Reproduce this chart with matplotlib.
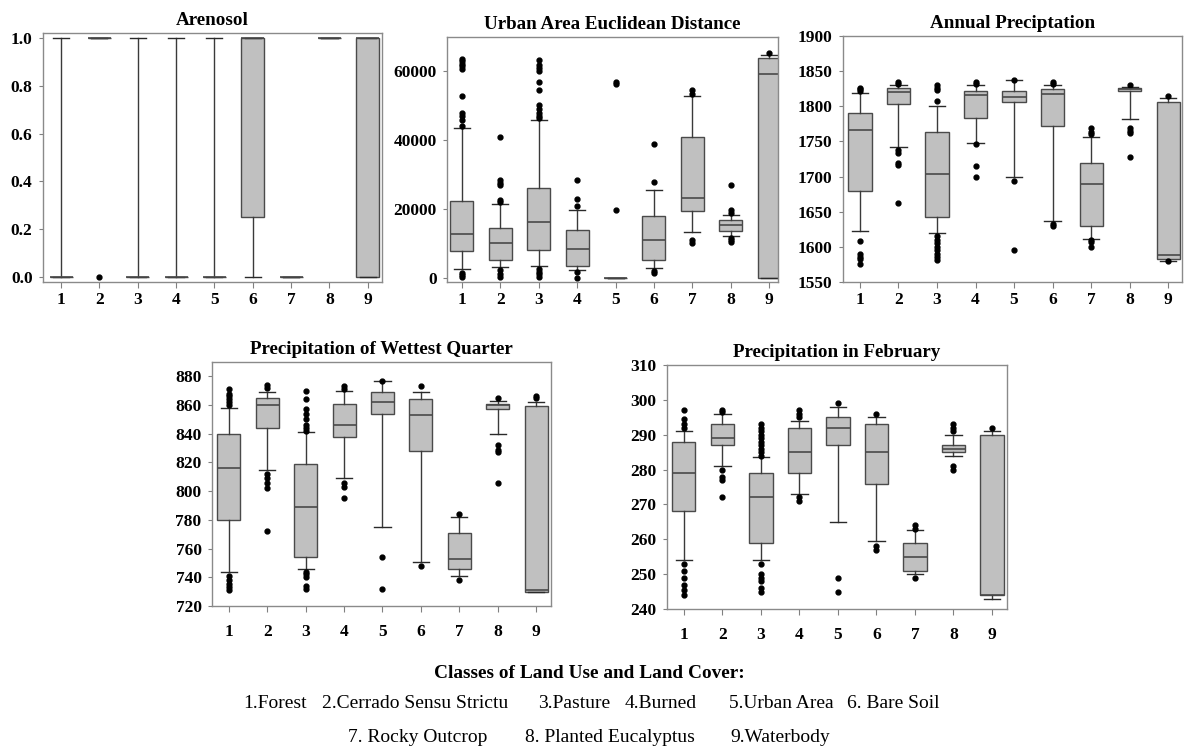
import matplotlib.pyplot as plt

plt.rcParams['font.family'] = ['Liberation Serif', 'DejaVu Serif']

classes = [1, 2, 3, 4, 5, 6, 7, 8, 9]

# each box: (whislo, q1, median, q3, whishi)
arenosol_box = [(0, 0, 0, 0, 1), (1, 1, 1, 1, 1), (0, 0, 0, 0, 1), (0, 0, 0, 0, 1),
                (0, 0, 0, 0, 1), (0, 0.25, 1, 1, 1), (0, 0, 0, 0, 0), (1, 1, 1, 1, 1),
                (0, 0, 1, 1, 1)]
arenosol_fliers = [[], [0], [], [], [], [], [], [], []]

urban_box = [(2500, 7740, 12870, 22260, 43640), (3100, 5320, 10260, 14500, 21480),
             (3480, 8130, 16260, 26130, 45970), (2420, 3390, 8320, 14030, 19840),
             (0, 0, 0, 0, 0), (3000, 5320, 10940, 17900, 25640),
             (13450, 19450, 23320, 41030, 52740), (12290, 13550, 15480, 16930, 18390),
             (0, 0, 59130, 63970, 64640)]
urban_fliers = [[300, 800, 1500, 44100, 46000, 47000, 48000, 52800, 60800, 61500, 62200, 63000, 63700],
                [300, 1200, 2200, 22100, 22700, 26900, 27500, 28350, 40900],
                [300, 1000, 1800, 2700, 46500, 47000, 48000, 49000, 50100, 54700, 56900,
                 60000, 61000, 62000, 63200],
                [0, 1740, 21000, 23000, 28550],
                [19840, 56300, 56800],
                [1500, 2000, 27870, 38800],
                [10200, 11100, 53300, 54700],
                [10450, 11000, 11700, 18900, 19640, 27100],
                [65300]]

annual_box = [(1622, 1680, 1766, 1790, 1819), (1742, 1803, 1820, 1826, 1830),
              (1620, 1643, 1703, 1763, 1801), (1748, 1784, 1816, 1822, 1830),
              (1700, 1806, 1813, 1822, 1837), (1637, 1772, 1818, 1825, 1830),
              (1611, 1630, 1690, 1720, 1757), (1782, 1822, 1825, 1826, 1828),
              (1580, 1583, 1589, 1806, 1812)]
annual_fliers = [[1576, 1583, 1586, 1590, 1608, 1822, 1824, 1826],
                 [1663, 1717, 1720, 1733, 1738, 1831, 1834],
                 [1582, 1585, 1590, 1595, 1600, 1605, 1610, 1615, 1807, 1823, 1826, 1830],
                 [1700, 1715, 1747, 1832, 1834],
                 [1595, 1694, 1838],
                 [1630, 1632, 1832, 1835],
                 [1600, 1607, 1610, 1760, 1763, 1769],
                 [1728, 1762, 1765, 1769, 1830],
                 [1580, 1815]]

wettest_box = [(744, 780, 816, 840, 858), (815, 844, 860, 865, 869),
               (746, 754, 789, 819, 841), (809, 838, 846, 861, 870),
               (775, 854, 862, 869, 877), (751, 828, 853, 864, 869),
               (741, 746, 753, 771, 782), (840, 857, 860, 861, 863),
               (730, 730, 731, 859, 862)]
wettest_fliers = [[731, 733, 735, 738, 741, 860, 862, 864, 866, 868, 871],
                  [772, 802, 806, 809, 812, 872, 874],
                  [732, 734, 740, 742, 744, 842, 844, 846, 850, 854, 857, 864, 870],
                  [795, 803, 806, 871, 873],
                  [732, 754, 877],
                  [748, 873],
                  [738, 784],
                  [806, 827, 829, 832, 865],
                  [865, 866]]

february_box = [(254, 268, 279, 288, 291), (281, 287, 289, 293, 296),
                (254, 259, 272, 279, 283.5), (273, 279, 285, 292, 294),
                (265, 287, 292, 295, 298), (259.5, 276, 285, 293, 295),
                (250, 251, 255, 259, 262.7), (284, 285, 286, 287, 290),
                (243, 244, 244, 290, 291)]
february_fliers = [[244, 245.5, 247, 249, 251, 253, 292, 293, 294.5, 297],
                   [272, 277, 278, 280, 296.5, 297],
                   [245, 246, 248, 249, 250, 253, 284, 285, 286, 287, 288, 289, 290, 291, 292, 293],
                   [271, 272, 295, 296, 297],
                   [245, 249, 299],
                   [257, 258, 296],
                   [249, 263, 264],
                   [280, 281, 291, 292, 293],
                   [292]]

legend_title = "Classes of Land Use and Land Cover:"
legend_row1 = ["1.Forest", "2.Cerrado Sensu Strictu", "3.Pasture", "4.Burned",
               "5.Urban Area", "6. Bare Soil"]
legend_row2 = ["7. Rocky Outcrop", "8. Planted Eucalyptus", "9.Waterbody"]

W, H = 1184, 749
fig = plt.figure(figsize=(W / 100, H / 100), dpi=100)


def px_axes(left, top, right, bottom):
    return fig.add_axes([left / W, 1 - bottom / H, (right - left) / W, (bottom - top) / H])


def draw_panel(ax, title, boxes, fliers, ylim, yticks, yfmt, xlim, xpad):
    stats = []
    for (lo, q1, med, q3, hi), fl in zip(boxes, fliers):
        stats.append(dict(whislo=lo, q1=q1, med=med, q3=q3, whishi=hi, fliers=fl))
    ax.bxp(stats, positions=classes, widths=0.6, capwidths=0.42, patch_artist=True,
           boxprops=dict(facecolor='#c0c0c0', edgecolor='#4a4a4a', linewidth=1),
           whiskerprops=dict(color='#3a3a3a', linewidth=1),
           capprops=dict(color='#2a2a2a', linewidth=1),
           medianprops=dict(color='#4a4a4a', linewidth=1.2),
           flierprops=dict(marker='o', markersize=3.5, markerfacecolor='black',
                           markeredgecolor='black'))
    ax.set_xlim(*xlim)
    ax.set_ylim(*ylim)
    ax.set_yticks(yticks)
    ax.set_yticklabels([yfmt.format(v) for v in yticks], fontsize=12.5, fontweight='bold')
    ax.set_xticks(classes)
    ax.set_xticklabels([str(c) for c in classes], fontsize=12.5, fontweight='bold')
    ax.tick_params(axis='x', length=4, pad=xpad, color='#808080')
    ax.tick_params(axis='y', length=3, pad=4.5, color='#808080')
    for s in ax.spines.values():
        s.set_color('#8a8a8a')
        s.set_linewidth(1)
    ax.set_title(title, fontsize=13.7, fontweight='bold', pad=6)


ax1 = px_axes(43, 33, 382, 282)
draw_panel(ax1, "Arenosol", arenosol_box, arenosol_fliers, (-0.02, 1.02),
           [0, 0.2, 0.4, 0.6, 0.8, 1.0], "{:.1f}", (0.53, 9.37), 3)

ax2 = px_axes(447, 37, 778, 282)
draw_panel(ax2, "Urban Area Euclidean Distance", urban_box, urban_fliers, (-1200, 70000),
           [0, 20000, 40000, 60000], "{:.0f}", (0.61, 9.23), 3)

ax3 = px_axes(843, 36, 1182, 282)
draw_panel(ax3, "Annual Preciptation", annual_box, annual_fliers, (1550, 1900),
           list(range(1550, 1901, 50)), "{:.0f}", (0.56, 9.36), 3)

ax4 = px_axes(212, 362, 551, 606)
draw_panel(ax4, "Precipitation of Wettest Quarter", wettest_box, wettest_fliers, (720, 890),
           list(range(720, 881, 20)), "{:.0f}", (0.56, 9.39), 9)

ax5 = px_axes(667, 365, 1007, 609)
draw_panel(ax5, "Precipitation in February", february_box, february_fliers, (240, 310),
           list(range(240, 311, 10)), "{:.0f}", (0.56, 9.39), 9)

fig.text(589 / W, 1 - 673 / H, legend_title, ha='center', va='center',
         fontsize=13.9, fontweight='bold')
row1_x = [243, 322, 538, 625, 729, 847]
row2_x = [348, 525, 730]
for x, t in zip(row1_x, legend_row1):
    fig.text(x / W, 1 - 704 / H, t, ha='left', va='center', fontsize=14)
for x, t in zip(row2_x, legend_row2):
    fig.text(x / W, 1 - 737 / H, t, ha='left', va='center', fontsize=14)

fig.savefig("out.png", dpi=100, facecolor='white')
